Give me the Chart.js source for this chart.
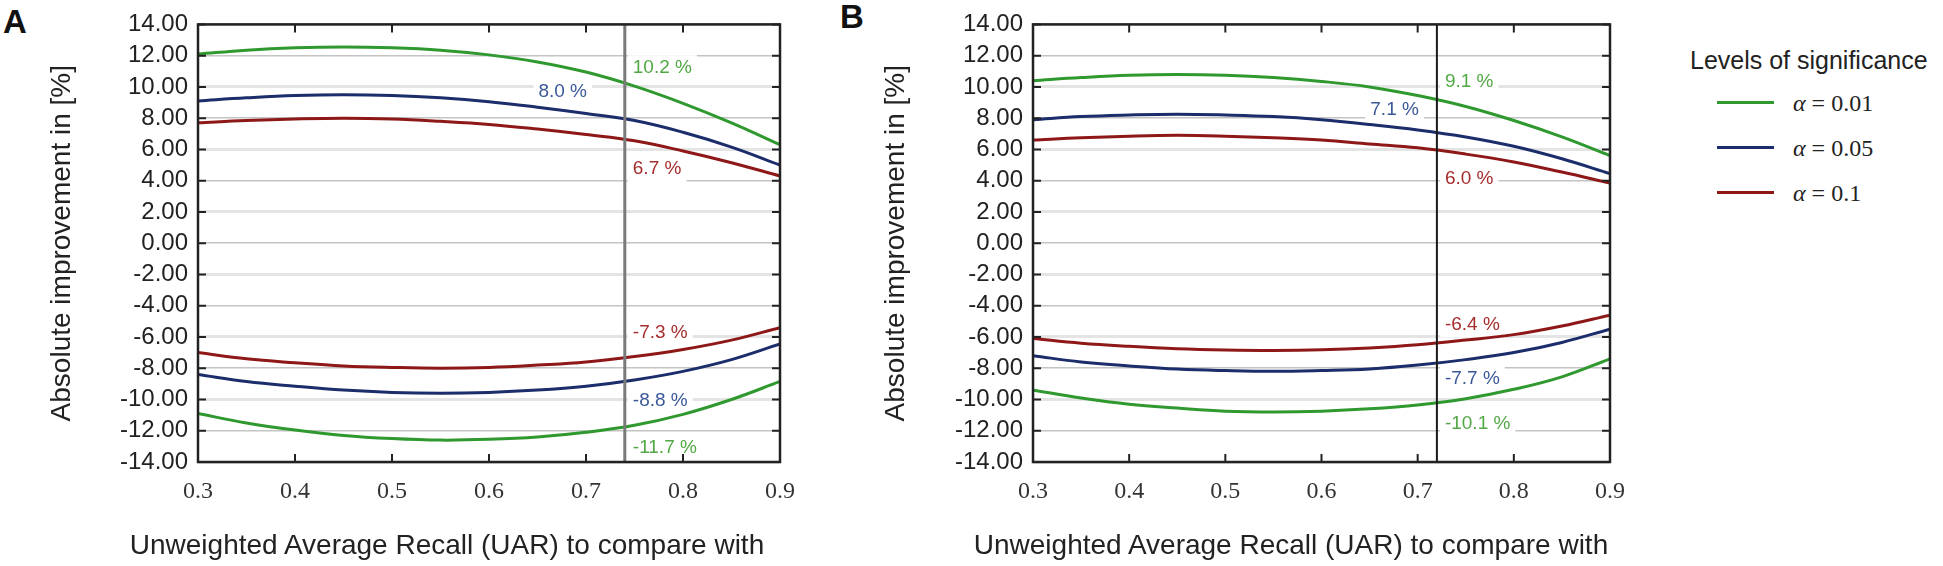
<!DOCTYPE html>
<html>
<head>
<meta charset="utf-8">
<script src="https://cdn.jsdelivr.net/npm/chart.js@4.4.1/dist/chart.umd.min.js"></script>
<style>
  html, body { margin: 0; padding: 0; background: #fff; }
  body { width: 1943px; height: 566px; position: relative; overflow: hidden;
         font-family: "Liberation Sans", Arial, sans-serif; color: #222; }
  .panel { position: absolute; top: 0; height: 566px; width: 810px; }
  #panelA { left: 0; }
  #panelB { left: 830px; }
  .letter { position: absolute; font-weight: bold; font-size: 33px; line-height: 33px; color: #111; }
  .xtitle { position: absolute; top: 529px; font-size: 28px; line-height: 32px;
            white-space: nowrap; transform: translateX(-50%); color: #222; }
  #legendTitle { position: absolute; left: 1690px; top: 45px; font-size: 25px; line-height: 30px; white-space: nowrap; }
  .legItem { position: absolute; left: 1717px; height: 30px; }
  .legItem .swatch { position: absolute; left: 0; top: 13px; width: 57px; height: 3px; }
  .legItem .lab { position: absolute; left: 76px; top: 0; font-family: "Liberation Serif", "Times New Roman", serif;
                  font-size: 24px; line-height: 30px; white-space: nowrap; }
</style>
</head>
<body>
<div class="letter" style="left:3px; top:5px;">A</div>
<div class="letter" style="left:840px; top:0px;">B</div>
<div class="panel" id="panelA"><canvas id="chartA"></canvas></div>
<div class="panel" id="panelB"><canvas id="chartB"></canvas></div>
<div class="xtitle" style="left:447px;">Unweighted Average Recall (UAR) to compare with</div>
<div class="xtitle" style="left:1291px;">Unweighted Average Recall (UAR) to compare with</div>
<div id="legendTitle">Levels of significance</div>
<div id="legend"></div>

<script>
// UAR values on the x axis
const uar = [0.30, 0.35, 0.40, 0.45, 0.50, 0.55, 0.60, 0.65, 0.70, 0.75, 0.80, 0.85, 0.90];

const levels = ['0.01', '0.05', '0.1'];
const lineColors = ['#2f992f', '#1b2d6b', '#8e1818'];
const textColors = ['#52a845', '#3a5898', '#a52d2d'];

// Panel A
const aUpper001 = [12.1, 12.35, 12.5, 12.55, 12.5, 12.35, 12.05, 11.6, 10.95, 10.05, 8.95, 7.7, 6.3];
const aUpper005 = [9.1, 9.3, 9.45, 9.5, 9.45, 9.3, 9.05, 8.7, 8.3, 7.85, 7.1, 6.15, 5.0];
const aUpper01  = [7.7, 7.85, 7.95, 8.0, 7.95, 7.8, 7.6, 7.3, 6.95, 6.55, 5.9, 5.15, 4.3];
const aLower001 = [-10.9, -11.5, -11.95, -12.3, -12.5, -12.6, -12.55, -12.4, -12.1, -11.65, -10.95, -10.0, -8.85];
const aLower005 = [-8.4, -8.85, -9.15, -9.4, -9.55, -9.6, -9.55, -9.4, -9.15, -8.75, -8.2, -7.45, -6.45];
const aLower01  = [-7.0, -7.4, -7.65, -7.85, -7.95, -8.0, -7.95, -7.8, -7.6, -7.25, -6.8, -6.2, -5.4];

// Panel B
const bUpper001 = [10.4, 10.6, 10.75, 10.8, 10.75, 10.6, 10.35, 10.0, 9.45, 8.75, 7.85, 6.8, 5.6];
const bUpper005 = [7.9, 8.1, 8.2, 8.25, 8.2, 8.1, 7.9, 7.6, 7.25, 6.8, 6.2, 5.4, 4.45];
const bUpper01  = [6.6, 6.75, 6.85, 6.9, 6.85, 6.75, 6.6, 6.35, 6.1, 5.7, 5.2, 4.55, 3.85];
const bLower001 = [-9.4, -9.9, -10.3, -10.55, -10.75, -10.8, -10.75, -10.6, -10.35, -9.95, -9.35, -8.55, -7.4];
const bLower005 = [-7.2, -7.6, -7.85, -8.05, -8.15, -8.2, -8.15, -8.05, -7.8, -7.45, -7.0, -6.35, -5.5];
const bLower01  = [-6.1, -6.4, -6.6, -6.75, -6.83, -6.86, -6.82, -6.7, -6.5, -6.2, -5.85, -5.3, -4.6];

// vertical marker (UAR of the own system) and the values read there
const markerA = 0.74;
const markerB = 0.72;
const labelsA = ['10.2 %', '8.0 %', '6.7 %', '-7.3 %', '-8.8 %', '-11.7 %'];
const labelsB = ['9.1 %', '7.1 %', '6.0 %', '-6.4 %', '-7.7 %', '-10.1 %'];
// label anchors in data units
const labelYA = [11.2, 9.7, 4.75, -5.7, -10.1, -13.1];
const labelYB = [10.35, 8.55, 4.15, -5.2, -8.65, -11.55];

const yTicks = [-14, -12, -10, -8, -6, -4, -2, 0, 2, 4, 6, 8, 10, 12, 14];

// legend
const legend = document.getElementById('legend');
levels.forEach((lvl, i) => {
    const item = document.createElement('div');
    item.className = 'legItem';
    item.style.top = (88 + i * 45) + 'px';
    item.innerHTML = '<span class="swatch" style="background:' + lineColors[i] + '"></span>' +
        '<span class="lab"><i>α</i> = ' + lvl + '</span>';
    legend.appendChild(item);
});

const framePlugin = {
    id: 'frame',
    beforeDatasetsDraw(chart, args, opts) {
        const {ctx, scales: {x, y}} = chart;
        const mx = x.getPixelForValue(opts.marker);
        ctx.save();
        ctx.font = '19px "Liberation Sans", Arial, sans-serif';
        ctx.textBaseline = 'middle';
        opts.texts.forEach((txt, i) => {
            // order: upper 0.01, upper 0.05, upper 0.1, lower 0.1, lower 0.05, lower 0.01
            const lvl = [0, 1, 2, 2, 1, 0][i];
            const py = y.getPixelForValue(opts.ys[i]);
            const w = ctx.measureText(txt).width;
            let left;
            if (i === 1) {
                left = x.getPixelForValue(0.676) - w / 2;
            } else {
                left = mx + 8;
            }
            ctx.fillStyle = '#fff';
            ctx.fillRect(left - 5, py - 13, w + 10, 26);
            ctx.fillStyle = textColors[lvl];
            ctx.textAlign = 'left';
            ctx.fillText(txt, left, py);
        });
        ctx.restore();
    },
    afterDatasetsDraw(chart, args, opts) {
        const {ctx, chartArea: a, scales: {x, y}} = chart;
        const mx = x.getPixelForValue(opts.marker);
        ctx.save();
        ctx.strokeStyle = opts.markerColor;
        ctx.lineWidth = opts.markerWidth;
        ctx.beginPath();
        ctx.moveTo(mx, a.top);
        ctx.lineTo(mx, a.bottom);
        ctx.stroke();

        ctx.strokeStyle = '#222';
        ctx.lineWidth = 2;
        ctx.beginPath();
        x.ticks.forEach(t => {
            if (t.value <= x.min + 1e-6 || t.value >= x.max - 1e-6) return;
            const px = x.getPixelForValue(t.value);
            ctx.moveTo(px, a.bottom); ctx.lineTo(px, a.bottom - 8);
            ctx.moveTo(px, a.top); ctx.lineTo(px, a.top + 8);
        });
        y.ticks.forEach(t => {
            const py = y.getPixelForValue(t.value);
            ctx.moveTo(a.left, py); ctx.lineTo(a.left + 8, py);
            ctx.moveTo(a.right, py); ctx.lineTo(a.right - 8, py);
        });
        ctx.stroke();
        ctx.lineWidth = 2.5;
        ctx.strokeRect(a.left, a.top, a.right - a.left, a.bottom - a.top);
        ctx.restore();
    }
};

function makeChart(canvasId, series, marker, markerColor, markerWidth, texts, ys, yAxisWidth, titleOffset) {
    const datasets = series.map((vals, i) => ({
        data: vals.map((v, k) => ({x: uar[k], y: v})),
        borderColor: lineColors[[0, 1, 2, 2, 1, 0][i]],
        borderWidth: 3,
        pointRadius: 0,
        tension: 0.4,
        fill: false
    }));
    return new Chart(document.getElementById(canvasId), {
        type: 'line',
        data: {datasets},
        plugins: [framePlugin],
        options: {
            responsive: true,
            maintainAspectRatio: false,
            animation: false,
            layout: {padding: {top: 16, right: 810 - yAxisWidth - 595, left: 0, bottom: 0}},
            plugins: {
                legend: {display: false},
                tooltip: {enabled: false},
                frame: {marker, markerColor, markerWidth, texts, ys}
            },
            scales: {
                x: {
                    type: 'linear',
                    min: 0.3,
                    max: 0.9,
                    ticks: {
                        stepSize: 0.1,
                        padding: 15,
                        autoSkip: false,
                        maxRotation: 0,
                        color: '#333',
                        font: {family: '"Liberation Serif", "Times New Roman", serif', size: 24},
                        callback: v => v.toFixed(1)
                    },
                    grid: {display: false, drawTicks: false},
                    border: {display: false},
                    afterFit: axis => { axis.height = 104; }
                },
                y: {
                    min: -14,
                    max: 14,
                    afterBuildTicks: axis => { axis.ticks = yTicks.map(v => ({value: v})); },
                    ticks: {
                        padding: 10,
                        autoSkip: false,
                        color: '#222',
                        font: {family: '"Liberation Sans", Arial, sans-serif', size: 24},
                        callback: v => v.toFixed(2)
                    },
                    grid: {
                        drawTicks: false,
                        color: c => (c.tick.value % 4 === 0 ? '#c4c4c4' : '#e4e4e4'),
                        lineWidth: c => (c.tick.value % 4 === 0 ? 1.5 : 3)
                    },
                    border: {display: false},
                    title: {
                        display: true,
                        text: 'Absolute improvement in [%]',
                        color: '#222',
                        font: {family: '"Liberation Sans", Arial, sans-serif', size: 28},
                        padding: {top: titleOffset, bottom: 0}
                    },
                    afterFit: axis => { axis.width = yAxisWidth; }
                }
            }
        }
    });
}

makeChart('chartA',
    [aUpper001, aUpper005, aUpper01, aLower01, aLower005, aLower001],
    markerA, '#7a7a7a', 3, labelsA, labelYA, 198, 45);
makeChart('chartB',
    [bUpper001, bUpper005, bUpper01, bLower01, bLower005, bLower001],
    markerB, '#1a1a1a', 2, labelsB, labelYB, 203, 49);
</script>
</body>
</html>
